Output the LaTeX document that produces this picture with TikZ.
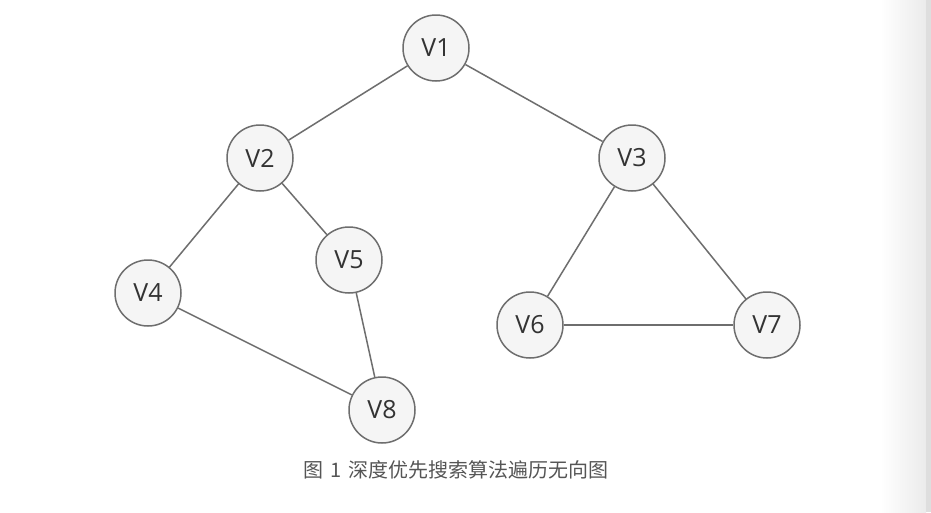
\documentclass[tikz,border=0pt]{standalone}
\usepackage{fontspec}
\setmainfont{Open Sans}
\newfontfamily\cjk{Noto Sans CJK SC}
\definecolor{edgec}{HTML}{6E6E6E}
\definecolor{fillc}{HTML}{F5F5F5}
\definecolor{capc}{HTML}{555555}
\definecolor{stripA}{HTML}{EBEBEB}
\definecolor{stripB}{HTML}{DEDEDE}
\begin{document}
\begin{tikzpicture}[x=1pt,y=-1pt,
  vert/.style={circle,draw=edgec,fill=fillc,line width=1.5pt,minimum size=66pt,inner sep=0pt,font=\fontsize{25}{28}\selectfont,text=black!80},
  edge/.style={draw=edgec,line width=1.5pt}]
\useasboundingbox (0,0) rectangle (931,512);
\fill[white] (0,0) rectangle (931,512);
\shade[left color=white,right color=stripA] (880,0) rectangle (926,512);
\fill[stripB] (926,0) rectangle (931,512);
\node[vert] (v1) at (436,48) {V1};
\node[vert] (v2) at (260,158) {V2};
\node[vert] (v3) at (632,158) {V3};
\node[vert] (v4) at (148,293) {V4};
\node[vert] (v5) at (349,260) {V5};
\node[vert] (v6) at (530,325) {V6};
\node[vert] (v7) at (767,325) {V7};
\node[vert] (v8) at (382,410) {V8};
\draw[edge] (v1) -- (v2);
\draw[edge] (v1) -- (v3);
\draw[edge] (v2) -- (v4);
\draw[edge] (v2) -- (v5);
\draw[edge] (v4) -- (v8);
\draw[edge] (v5) -- (v8);
\draw[edge] (v3) -- (v6);
\draw[edge] (v3) -- (v7);
\draw[edge] (v6) -- (v7);
\node[text=capc,font=\cjk\fontsize{20}{24}\selectfont] (cap) at (456,470) {图\hspace{7pt}1\hspace{7pt}深度优先搜索算法遍历无向图};
\end{tikzpicture}
\end{document}
